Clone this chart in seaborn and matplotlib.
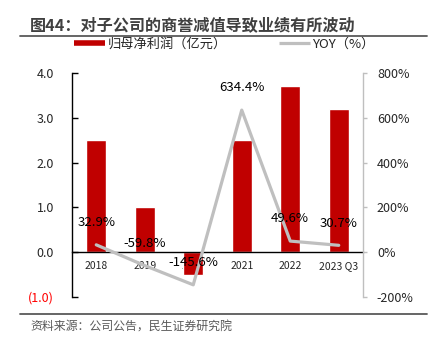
import matplotlib
matplotlib.use("Agg")
import matplotlib.pyplot as plt
from matplotlib.lines import Line2D
import seaborn as sns
import pandas as pd

categories = ["2018", "2019", "2020", "2021", "2022", "2023 Q3"]
profit = [2.5, 1.0, -0.5, 2.5, 3.7, 3.2]
yoy = [32.9, -59.8, -145.6, 634.4, 49.6, 30.7]
yoy_labels = ["32.9%", "-59.8%", "-145.6%", "634.4%", "49.6%", "30.7%"]
left_ticks = [-1.0, 0.0, 1.0, 2.0, 3.0, 4.0]
left_tick_labels = ["(1.0)", "0.0", "1.0", "2.0", "3.0", "4.0"]
right_ticks = [-200, 0, 200, 400, 600, 800]
right_tick_labels = ["-200%", "0%", "200%", "400%", "600%", "800%"]
title = "图44：对子公司的商誉减值导致业绩有所波动"
source = "资料来源：公司公告，民生证券研究院"
bar_name = "归母净利润（亿元）"
line_name = "YOY（%）"

sns.set_style("white")
plt.rcParams["font.family"] = ["Noto Sans CJK SC", "DejaVu Sans"]

RED = "#C00000"
GRAY = "#BFBFBF"
TXT = "#262626"

df = pd.DataFrame({"cat": categories, "profit": profit, "yoy": yoy})

fig = plt.figure(figsize=(4.32, 3.40), dpi=100)
ax = fig.add_axes([72/432, 1-297/340, (363-72)/432, (297-73)/340])

sns.barplot(data=df, x="cat", y="profit", color=RED, width=0.41,
            saturation=1, ax=ax, order=categories)
ax.set_xlim(-0.5, 5.5)
ax.set_ylim(-1.0, 4.0)
ax.set_yticks(left_ticks)
ax.set_yticklabels(left_tick_labels)
for lbl in ax.get_yticklabels():
    lbl.set_color(TXT)
ax.get_yticklabels()[0].set_color("red")
ax.set_xlabel("")
ax.set_ylabel("")
ax.spines["top"].set_visible(False)
ax.spines["right"].set_visible(False)
ax.spines["bottom"].set_position(("data", 0))
ax.spines["bottom"].set_color("black")
ax.spines["bottom"].set_linewidth(1.0)
ax.spines["left"].set_color("black")
ax.spines["left"].set_linewidth(1.0)
ax.tick_params(axis="y", direction="in", length=4, width=1, color="black",
               labelsize=9, pad=13)
ax.tick_params(axis="x", length=0, labelsize=7.5, pad=6.5, labelcolor=TXT)
ax.set_zorder(1)

ax2 = ax.twinx()
sns.lineplot(x=list(range(len(categories))), y=yoy, ax=ax2, color=GRAY,
             linewidth=2.3, sort=False, legend=False)
ax2.set_ylim(-200, 800)
ax2.set_yticks(right_ticks)
ax2.set_yticklabels(right_tick_labels)
ax2.tick_params(axis="y", direction="out", length=3, width=1, color=GRAY,
                labelsize=9, labelcolor=TXT, pad=7)
for s in ["top", "left", "bottom"]:
    ax2.spines[s].set_visible(False)
ax2.spines["right"].set_color(GRAY)
ax2.spines["right"].set_linewidth(1.0)
ax2.set_zorder(2)
ax2.patch.set_visible(False)

for i, (v, t) in enumerate(zip(yoy, yoy_labels)):
    ax2.annotate(t, xy=(i, v), xytext=(0, 16), textcoords="offset points",
                 ha="center", va="center", fontsize=9.5, color="black")

fig.text(30/432, 1-26/340, title, fontsize=11.6, fontweight="bold",
         color="#404040", ha="left", va="center")
fig.add_artist(Line2D([20/432, 427/432], [1-35.5/340]*2, color="#595959",
                      lw=1.3, transform=fig.transFigure))
fig.add_artist(Line2D([20/432, 427/432], [1-314/340]*2, color="#595959",
                      lw=1.3, transform=fig.transFigure))
fig.text(30/432, 1-326/340, source, fontsize=8.6, color="#595959",
         ha="left", va="center")

handles = [Line2D([], [], color=RED, lw=4, solid_capstyle="butt"),
           Line2D([], [], color=GRAY, lw=2.3, solid_capstyle="butt")]
fig.legend(handles, [bar_name, line_name], loc="center",
           bbox_to_anchor=(0.52, 1-44/340), ncol=2, frameon=False,
           fontsize=9.5, handlelength=2.3, handletextpad=0.2,
           columnspacing=4.0, borderpad=0, borderaxespad=0)

fig.savefig("out.png", dpi=100)
